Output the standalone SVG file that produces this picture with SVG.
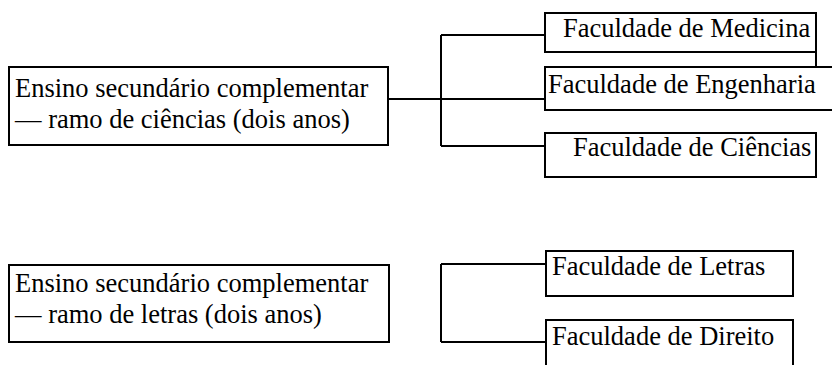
<svg xmlns="http://www.w3.org/2000/svg" width="832" height="365" viewBox="0 0 832 365">
<style>
.box{fill:#fff;stroke:#000;stroke-width:2}
.ln{fill:none;stroke:#000;stroke-width:2}
text{font-family:"Liberation Serif","Times New Roman",serif;font-size:26.5px;fill:#000}
</style>
<rect width="832" height="365" fill="#fff"/>
<g id="connectors">
<path class="ln" d="M388 99H441M441 35V146M441 35H545M441 99H545M441 146H545"/>
<path class="ln" d="M816 52V67"/>
<path class="ln" d="M441 264V342M441 264H546M441 342H546"/>
</g>
<g id="node-ciencias-ramo">
<rect class="box" x="9" y="67" width="379" height="78"/>
<text x="15" y="97">Ensino secundário complementar</text>
<text x="15" y="128">— ramo de ciências (dois anos)</text>
</g>
<g id="node-medicina">
<rect class="box" x="545" y="13" width="271" height="39"/>
<text x="563" y="37">Faculdade de Medicina</text>
</g>
<g id="node-engenharia">
<rect class="box" x="545" y="67" width="300" height="43"/>
<text x="548" y="93">Faculdade de Engenharia</text>
</g>
<g id="node-ciencias">
<rect class="box" x="545" y="133" width="271" height="44"/>
<text x="573" y="156">Faculdade de Ciências</text>
</g>
<g id="node-letras-ramo">
<rect class="box" x="9" y="265" width="380" height="77"/>
<text x="15" y="292">Ensino secundário complementar</text>
<text x="15" y="323">— ramo de letras (dois anos)</text>
</g>
<g id="node-letras">
<rect class="box" x="546" y="251" width="247" height="45"/>
<text x="552" y="275">Faculdade de Letras</text>
</g>
<g id="node-direito">
<rect class="box" x="546" y="320" width="247" height="60"/>
<text x="552" y="345">Faculdade de Direito</text>
</g>
</svg>
